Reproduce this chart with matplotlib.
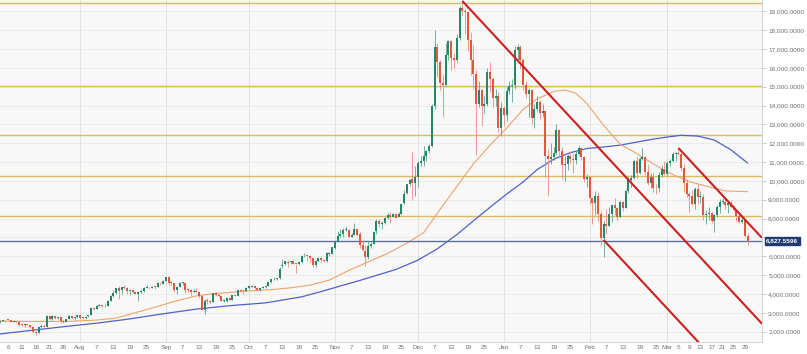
import matplotlib
matplotlib.use("Agg")
import matplotlib.pyplot as plt
import matplotlib.dates as mdates
from matplotlib.ticker import FixedLocator, FuncFormatter
import numpy as np
import pandas as pd

# ---------------- data (daily OHLC, 2017-07-03 .. 2018-03-30) ----------------
start_date = "2017-07-03"

opens = [
    # Jul
    2498, 2564, 2602, 2609, 2608, 2520, 2572, 2525, 2385, 2333, 2403, 2360, 2230, 2008, 1932, 2233, 2323, 2270, 2838, 2668, 2809, 2733, 2757, 2577, 2538, 2679, 2807, 2724, 2763,
    # Aug
    2871, 2727, 2709, 2807, 2897, 3258, 3212, 3370, 3420, 3342, 3374, 3651, 3880, 4067, 4327, 4201, 4385, 4325, 4138, 4189, 4090, 3999, 4089, 4137, 4332, 4373, 4345, 4385, 4390, 4577, 4555,
    # Sep
    4701, 4901, 4585, 4592, 4228, 4376, 4589, 4605, 4229, 4229, 4122, 4168, 4132, 3875, 3166, 3637, 3607, 3591, 4074, 3917, 3901, 3628, 3629, 3796, 3689, 3928, 3892, 4198, 4172, 4166,
    # Oct
    4341, 4395, 4408, 4319, 4229, 4324, 4370, 4429, 4615, 4776, 4787, 4829, 5464, 5566, 5714, 5687, 5741, 5603, 5583, 5710, 5996, 6036, 5996, 5935, 5524, 5747, 5899, 5787, 5754, 6114, 6132,
    # Nov
    6440, 6777, 7087, 7165, 7404, 7403, 7023, 7141, 7446, 7173, 6618, 6295, 5938, 6561, 6635, 7324, 7853, 7697, 7766, 8040, 8205, 8077, 8233, 8075, 8241, 8812, 9353, 9823, 10078, 9907,
    # Dec
    10200, 10950, 11050, 11300, 11600, 11850, 13950, 17100, 16300, 15200, 15100, 16700, 17400, 16500, 16400, 17600, 19200, 19000, 18950, 17500, 16400, 15700, 14100, 14800, 14000, 14100, 15800, 15400, 14400, 14500, 12800,
    # Jan
    13850, 13500, 14750, 15050, 15100, 16950, 17100, 16400, 15100, 14600, 14800, 13350, 13800, 14200, 13600, 13700, 11300, 11150, 11250, 11500, 12700, 11600, 10850, 10900, 11300, 11150, 11100, 11450, 11750, 11250, 10100,
    # Feb
    10200, 9100, 8850, 9200, 8250, 6950, 7700, 7600, 8250, 8700, 8550, 8100, 8900, 8550, 9450, 10050, 10150, 11050, 10400, 11150, 11250, 10450, 9900, 10200, 9650, 9600, 10300, 10650,
    # Mar
    10350, 10950, 11050, 11450, 11500, 11450, 10700, 9900, 9300, 9200, 8800, 9550, 9150, 9150, 8200, 8250, 8280, 7850, 8200, 8600, 8900, 8900, 8700, 8850, 8600, 8450, 8150, 7800, 7950, 7100,
]

highs = [
    # Jul
    2595, 2639, 2622, 2616, 2608, 2571, 2573, 2538, 2413, 2410, 2425, 2364, 2231, 2030, 2231, 2388, 2396, 2900, 2839, 2862, 2833, 2777, 2768, 2610, 2693, 2897, 2808, 2758, 2889,
    # Aug
    2921, 2763, 2813, 2900, 3290, 3307, 3397, 3480, 3422, 3453, 3680, 3950, 4208, 4325, 4442, 4381, 4484, 4372, 4185, 4196, 4109, 4138, 4255, 4376, 4455, 4379, 4416, 4403, 4625, 4647, 4745,
    # Sep
    4892, 4976, 4714, 4592, 4427, 4617, 4655, 4662, 4308, 4246, 4261, 4344, 4133, 3920, 3734, 3808, 3664, 4079, 4094, 4031, 3916, 3758, 3819, 3796, 3941, 3969, 4210, 4263, 4216, 4358,
    # Oct
    4403, 4470, 4432, 4352, 4362, 4413, 4469, 4624, 4780, 4923, 4873, 5446, 5857, 5739, 5781, 5776, 5800, 5603, 5744, 6060, 6194, 6075, 6060, 5935, 5794, 5971, 6000, 5876, 6255, 6214, 6470,
    # Nov
    6770, 7367, 7461, 7492, 7617, 7445, 7253, 7776, 7446, 7312, 6885, 6625, 6811, 6764, 7330, 7968, 8004, 7884, 8102, 8280, 8348, 8302, 8267, 8374, 8792, 9522, 9818, 10125, 11517, 10801,
    # Dec
    11050, 11300, 11850, 11650, 11950, 14100, 18000, 17300, 16400, 15700, 17300, 17500, 17500, 16800, 17800, 19300, 19550, 19100, 19000, 17900, 17200, 15900, 15300, 14900, 14500, 16000, 16300, 15500, 14900, 14700, 14200,
    # Jan
    14000, 15000, 15300, 15400, 17150, 17250, 17200, 16500, 15300, 14950, 14900, 14100, 14500, 14300, 14100, 13750, 11700, 12000, 11800, 13000, 12750, 11800, 11300, 11450, 11600, 11500, 11600, 11900, 11800, 11300, 10350,
    # Feb
    10250, 9150, 9450, 9400, 8400, 7900, 8500, 8600, 8750, 9100, 8600, 8950, 8950, 9500, 10200, 10300, 11100, 11250, 11250, 11750, 11300, 10900, 10400, 10500, 9850, 10450, 10850, 11050,
    # Mar
    11050, 11150, 11550, 11550, 11700, 11500, 10900, 10100, 9400, 9500, 9700, 9850, 9450, 9300, 8450, 8600, 8350, 8250, 8700, 9050, 9100, 9100, 8900, 9000, 8700, 8500, 8250, 8100, 7950, 7250,
]

lows = [
    # Jul
    2480, 2564, 2538, 2582, 2490, 2492, 2518, 2321, 2296, 2262, 2340, 2183, 1990, 1843, 1932, 2178, 2270, 2269, 2621, 2640, 2700, 2699, 2480, 2450, 2529, 2679, 2692, 2604, 2720,
    # Aug
    2685, 2668, 2699, 2789, 2875, 3162, 3180, 3340, 3247, 3319, 3373, 3613, 3857, 3989, 3726, 3994, 4243, 3989, 3954, 4069, 3988, 3603, 4078, 4130, 4307, 4269, 4317, 4250, 4352, 4495, 4555,
    # Sep
    4678, 4469, 4482, 4107, 3994, 4376, 4491, 4075, 4114, 3952, 4099, 4085, 3789, 3153, 2946, 3487, 3456, 3591, 3868, 3857, 3614, 3553, 3594, 3666, 3689, 3869, 3884, 4131, 4014, 4160,
    # Oct
    4269, 4377, 4258, 4210, 4164, 4320, 4318, 4429, 4569, 4746, 4751, 4822, 5380, 5553, 5426, 5586, 5574, 5109, 5531, 5628, 5965, 5733, 5689, 5452, 5450, 5720, 5714, 5689, 5684, 6040, 6103,
    # Nov
    6378, 6758, 7003, 7031, 7333, 7002, 7023, 7114, 7101, 6436, 6281, 5507, 5845, 6461, 6634, 7176, 7561, 7463, 7694, 7996, 7762, 8075, 8038, 8072, 8241, 8775, 9286, 9725, 9009, 9202,
    # Dec
    9700, 10800, 10800, 11050, 11500, 11800, 13800, 15500, 14800, 13400, 15050, 16400, 15900, 16000, 16300, 17500, 18800, 17800, 16900, 15600, 14900, 11400, 13900, 12900, 13600, 14000, 14700, 13900, 14000, 12600, 12400,
    # Jan
    12900, 13200, 14600, 14200, 14900, 16300, 16000, 14800, 14400, 13400, 13000, 12800, 13700, 13300, 13400, 10200, 9200, 10900, 11100, 11450, 11300, 10100, 10000, 10600, 10950, 10400, 10900, 11400, 11100, 9950, 9700,
    # Feb
    8800, 7700, 8200, 7900, 6600, 5950, 7200, 7600, 7800, 8200, 7900, 8100, 8400, 8550, 9350, 9700, 10100, 10150, 10350, 11100, 10300, 9800, 9600, 9400, 9300, 9400, 10200, 10300,
    # Mar
    10300, 10800, 11000, 11050, 11400, 10550, 9400, 9150, 8350, 8700, 8500, 8800, 8850, 7950, 7700, 7950, 7750, 7300, 8100, 8300, 8750, 8500, 8300, 8550, 8400, 7900, 7750, 7750, 7050, 6600,
]

closes = [
    # Jul
    2564, 2601, 2601, 2608, 2518, 2571, 2518, 2372, 2337, 2398, 2357, 2233, 1998, 1930, 2228, 2318, 2273, 2817, 2667, 2810, 2730, 2754, 2576, 2529, 2671, 2809, 2726, 2757, 2875,
    # Aug
    2718, 2710, 2805, 2895, 3253, 3213, 3378, 3419, 3342, 3381, 3650, 3884, 4073, 4325, 4181, 4376, 4331, 4160, 4193, 4087, 4001, 4100, 4151, 4334, 4371, 4352, 4382, 4382, 4579, 4565, 4703,
    # Sep
    4892, 4579, 4582, 4236, 4376, 4597, 4599, 4229, 4226, 4123, 4161, 4130, 3882, 3154, 3637, 3625, 3582, 4065, 3924, 3905, 3631, 3630, 3792, 3682, 3926, 3892, 4200, 4174, 4163, 4338,
    # Oct
    4403, 4409, 4317, 4229, 4328, 4371, 4426, 4611, 4773, 4781, 4827, 5325, 5564, 5739, 5648, 5711, 5603, 5590, 5708, 6011, 6031, 6008, 5930, 5526, 5750, 5904, 5780, 5753, 6153, 6130, 6468,
    # Nov
    6767, 7078, 7207, 7379, 7407, 7022, 7144, 7459, 7143, 6618, 6357, 5950, 6559, 6635, 7315, 7871, 7708, 7790, 8036, 8200, 8071, 8253, 8038, 8253, 8791, 9330, 9818, 10058, 9888, 10233,
    # Dec
    10950, 11050, 11300, 11600, 11850, 13950, 17100, 16300, 15200, 15100, 16700, 17400, 16500, 16400, 17600, 19200, 19000, 18950, 17500, 16400, 15700, 14100, 14800, 14000, 14100, 15800, 15400, 14400, 14500, 12800, 13850,
    # Jan
    13500, 14750, 15050, 15100, 16950, 17100, 16400, 15100, 14600, 14800, 13350, 13800, 14200, 13600, 13700, 11300, 11150, 11250, 11500, 12700, 11600, 10850, 10900, 11300, 11150, 11100, 11450, 11750, 11250, 10100, 10200,
    # Feb
    9100, 8850, 9200, 8250, 6950, 7700, 7600, 8250, 8700, 8550, 8100, 8900, 8550, 9450, 10050, 10150, 11050, 10400, 11150, 11250, 10450, 9900, 10200, 9650, 9600, 10300, 10650, 10350,
    # Mar
    10950, 11050, 11450, 11500, 11450, 10700, 9900, 9300, 9200, 8800, 9550, 9150, 9150, 8200, 8250, 8280, 7850, 8200, 8600, 8900, 8900, 8700, 8850, 8600, 8450, 8150, 7800, 7950, 7100, 6827.5596,
]

# moving averages
sma50_dates = ["2017-07-03", "2017-07-12", "2017-07-21", "2017-07-30", "2017-08-07", "2017-08-14",
               "2017-08-21", "2017-08-28", "2017-09-04", "2017-09-11", "2017-09-18", "2017-09-25",
               "2017-10-02", "2017-10-09", "2017-10-16", "2017-10-23", "2017-10-30", "2017-11-06",
               "2017-11-13", "2017-11-20", "2017-11-27", "2017-12-03", "2017-12-10", "2017-12-16",
               "2017-12-21", "2017-12-27", "2018-01-02", "2018-01-08", "2018-01-13", "2018-01-19",
               "2018-01-23", "2018-01-27", "2018-01-31", "2018-02-06", "2018-02-12", "2018-02-18",
               "2018-02-24", "2018-03-02", "2018-03-09", "2018-03-16", "2018-03-22", "2018-03-30"]
sma50_values = [2560, 2550, 2540, 2560, 2620, 2720, 3010, 3300, 3600, 3870, 4020, 4100,
                4170, 4230, 4330, 4470, 4740, 5250, 5700, 6150, 6700, 7250, 8700, 9900,
                10900, 11900, 12800, 13800, 14350, 14750, 14820, 14650, 14100, 12950, 11950, 11450,
                10900, 10400, 9960, 9690, 9470, 9430]

sma100_dates = ["2017-07-03", "2017-07-15", "2017-07-27", "2017-08-08", "2017-08-19", "2017-08-31",
                "2017-09-12", "2017-09-24", "2017-10-07", "2017-10-20", "2017-10-27", "2017-11-10",
                "2017-11-23", "2017-12-01", "2017-12-08", "2017-12-15", "2017-12-22", "2017-12-27",
                "2018-01-02", "2018-01-08", "2018-01-13", "2018-01-19", "2018-01-25", "2018-01-31",
                "2018-02-06", "2018-02-12", "2018-02-18", "2018-02-24", "2018-03-02", "2018-03-06",
                "2018-03-12", "2018-03-18", "2018-03-24", "2018-03-30"]
sma100_values = [1880, 2080, 2280, 2470, 2680, 2950, 3200, 3380, 3530, 3850, 4130, 4720,
                 5300, 5800, 6400, 7150, 8000, 8600, 9300, 9950, 10600, 11150, 11500, 11720,
                 11800, 11900, 12060, 12220, 12350, 12420, 12380, 12170, 11650, 10950]

# horizontal support / resistance levels
level_values = [19420, 15050, 12420, 10280, 8120]
last_price = 6827.5596

# trend lines: (start date, start value, second date, second value)
trend_start_dates = ["2017-12-17", "2018-02-06", "2018-03-05"]
trend_start_values = [19550, 6870, 11750]
trend_end_dates = ["2018-02-25", "2018-03-08", "2018-04-04"]
trend_end_values = [8470, 2121, 7010]

tick_dates = ["2017-07-06", "2017-07-11", "2017-07-16", "2017-07-21", "2017-07-26", "2017-08-01",
              "2017-08-07", "2017-08-13", "2017-08-19", "2017-08-25", "2017-09-01", "2017-09-07",
              "2017-09-13", "2017-09-19", "2017-09-25", "2017-10-01", "2017-10-07", "2017-10-13",
              "2017-10-19", "2017-10-25", "2017-11-01", "2017-11-07", "2017-11-13", "2017-11-19",
              "2017-11-25", "2017-12-01", "2017-12-07", "2017-12-13", "2017-12-19", "2017-12-25",
              "2018-01-01", "2018-01-07", "2018-01-13", "2018-01-19", "2018-01-25", "2018-02-01",
              "2018-02-07", "2018-02-13", "2018-02-19", "2018-02-25", "2018-03-01", "2018-03-05",
              "2018-03-09", "2018-03-13", "2018-03-17", "2018-03-21", "2018-03-25", "2018-03-29"]
tick_labels = ["6", "11", "16", "21", "26", "Aug", "7", "13", "19", "25", "Sep", "7", "13", "19", "25",
               "Oct", "7", "13", "19", "25", "Nov", "7", "13", "19", "25", "Dec", "7", "13", "19", "25",
               "Jan", "7", "13", "19", "25", "Feb", "7", "13", "19", "25", "Mar", "5", "9", "13", "17",
               "21", "25", "29"]
month_starts = ["2017-08-01", "2017-09-01", "2017-10-01", "2017-11-01", "2017-12-01",
                "2018-01-01", "2018-02-01", "2018-03-01"]
y_ticks = list(range(2000, 19001, 1000))
hidden_y_label = 7000   # covered by the last-price tag in the reference

# ---------------- drawing ----------------
plt.rcParams['font.family'] = ['Liberation Sans', 'DejaVu Sans']

W, H = 807, 354
fig = plt.figure(figsize=(W / 100, H / 100), dpi=100)
fig.patch.set_facecolor('white')
ax = fig.add_axes([0, (H - 341.5) / H, 762 / W, 341.5 / H])
ax.set_facecolor('#f8f8f8')

n = len(closes)
dates = pd.date_range(start_date, periods=n, freq='D')
xd = mdates.date2num(dates)
o = np.array(opens, float)
h = np.array(highs, float)
l = np.array(lows, float)
c = np.array(closes, float)
up = c >= o

green = '#23876b'
red = '#e4573f'
green_w = '#5aa58e'
red_w = '#ec8f7f'

# grid
for v in y_ticks:
    ax.axhline(v, color='#e9e9e9', lw=0.6, zorder=0)
for d in month_starts:
    ax.axvline(mdates.datestr2num(d), color='#e2e2e2', lw=0.7, zorder=0)

# levels
for v in level_values:
    ax.axhline(v, color='#d9bb62', lw=1.0, zorder=1)

# moving averages
ax.plot(mdates.datestr2num(sma100_dates), sma100_values, color='#4f62c8', lw=0.9, zorder=2)
ax.plot(mdates.datestr2num(sma50_dates), sma50_values, color='#efa36a', lw=0.8, zorder=2)

# candles
ax.vlines(xd[up], l[up], h[up], color=green_w, lw=0.6, zorder=3)
ax.vlines(xd[~up], l[~up], h[~up], color=red_w, lw=0.6, zorder=3)
body_lo = np.minimum(o, c)
body_h = np.maximum(np.abs(c - o), 45)
ax.bar(xd[up], body_h[up], bottom=body_lo[up], width=0.72, color=green, lw=0, zorder=4)
ax.bar(xd[~up], body_h[~up], bottom=body_lo[~up], width=0.72, color=red, lw=0, zorder=4)

# last price line
ax.axhline(last_price, color='#5d7096', lw=1.0, zorder=2)

# axis limits
x_left = mdates.datestr2num("2017-07-03 02:00")
x_right = mdates.datestr2num("2018-04-04 05:00")
ax.set_xlim(x_left, x_right)
ax.set_ylim(1480, 19600)

# trend lines
for sd, sv, ed, ev in zip(trend_start_dates, trend_start_values, trend_end_dates, trend_end_values):
    x0 = mdates.datestr2num(sd)
    x1 = mdates.datestr2num(ed)
    slope = (ev - sv) / (x1 - x0)
    xs = np.array([x0, x_right])
    ys = sv + slope * (xs - x0)
    ax.plot(xs, ys, color='#cc1f1f', lw=1.5, zorder=5, solid_capstyle='butt')

# axes style
ax.yaxis.tick_right()
ax.yaxis.set_major_locator(FixedLocator(y_ticks))
ax.yaxis.set_major_formatter(FuncFormatter(
    lambda v, p: "" if abs(v - hidden_y_label) < 1 else f"{v:,.4f}"))
ax.set_xticks(mdates.datestr2num(tick_dates))
ax.set_xticklabels(tick_labels)
ax.tick_params(axis='y', which='both', length=3, width=0.5, color='#b5b5b5',
               labelsize=4.6, labelcolor='#6e6e6e', pad=1.5)
ax.tick_params(axis='x', which='both', length=0, labelsize=4.6, labelcolor='#6e6e6e', pad=2.5)
for s in ['top', 'left']:
    ax.spines[s].set_visible(False)
for s in ['right', 'bottom']:
    ax.spines[s].set_color('#cfcfcf')
    ax.spines[s].set_linewidth(0.6)

# last price tag
ax.annotate(f"{last_price:,.4f}", xy=(1.0, last_price), xycoords=('axes fraction', 'data'),
            xytext=(3, 0), textcoords='offset points', va='center', ha='left',
            fontsize=4.6, color='white', fontweight='bold',
            bbox=dict(boxstyle='square,pad=0.25', fc='#1f3b70', ec='#1f3b70'),
            zorder=10, annotation_clip=False)

fig.savefig('out.png', dpi=100, facecolor=fig.get_facecolor())
